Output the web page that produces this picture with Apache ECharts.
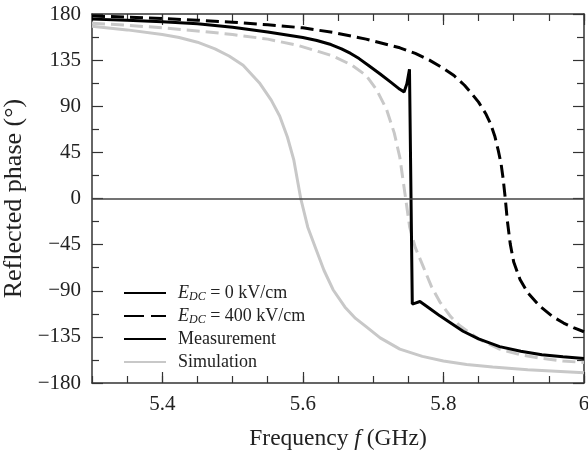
<!DOCTYPE html>
<html>
<head>
<meta charset="utf-8">
<script src="https://cdn.jsdelivr.net/npm/echarts@6/dist/echarts.min.js"></script>
<style>
    html, body {margin: 0; padding: 0; background: #fff;}
    #chartWrap {width: 588px; height: 454px;}
</style>
</head>
<body>
<div id="chartWrap"></div>
<script>
// measurement, E_DC = 0 kV/cm
const meas0Freq = [5.30, 5.35, 5.40, 5.45, 5.50, 5.55, 5.60, 5.62, 5.64, 5.655, 5.668, 5.68, 5.695, 5.71, 5.725, 5.738, 5.744, 5.748, 5.7517,
    5.7557, 5.760, 5.7666, 5.78, 5.795, 5.8093, 5.828, 5.85, 5.88, 5.91, 5.94, 5.97, 6.0];
const meas0Phase = [175, 174, 172.5, 170.5, 167, 162.5, 157, 154.2, 150.2, 146, 141.5, 136.5, 129, 121.5, 113.5, 106.5, 104, 112, 126,
    -103, -102, -100.5, -107, -114.5, -121, -129.5, -137, -144.5, -149, -152.5, -154.5, -156];

// measurement, E_DC = 400 kV/cm
const meas400Freq = [5.30, 5.35, 5.40, 5.45, 5.50, 5.55, 5.60, 5.643, 5.69, 5.738, 5.76, 5.78, 5.80, 5.815, 5.83, 5.84,
    5.85, 5.86, 5.867, 5.873, 5.878, 5.882, 5.885, 5.888, 5.891, 5.895, 5.90, 5.909, 5.92, 5.937, 5.955, 5.971, 5.985, 6.0];
const meas400Phase = [178, 177, 175.5, 174, 172, 169.5, 166.5, 162, 155.5, 147, 141.5, 135, 127, 120, 110.5, 102.5,
    94, 83, 73, 61, 47, 34, 19, 0, -22, -44, -62, -79, -92, -105, -115, -121.5, -126, -130];

// simulation, E_DC = 0 kV/cm
const sim0Freq = [5.30, 5.35, 5.40, 5.424, 5.45, 5.475, 5.495, 5.515, 5.538, 5.555, 5.567, 5.578, 5.587, 5.597, 5.607,
    5.619, 5.63, 5.643, 5.66, 5.675, 5.69, 5.71, 5.738, 5.77, 5.80, 5.833, 5.87, 5.92, 5.96, 6.0];
const sim0Phase = [168, 164.5, 160, 157, 152.5, 146, 139, 130, 113, 96, 80.5, 60, 38, 0, -28,
    -50, -70, -89, -106, -117, -125, -136, -147, -154, -158.5, -162, -164.5, -167, -168.5, -170];

// simulation, E_DC = 400 kV/cm
const sim400Freq = [5.30, 5.35, 5.40, 5.45, 5.50, 5.55, 5.595, 5.624, 5.643, 5.67, 5.69, 5.705, 5.719, 5.73, 5.738, 5.745,
    5.752, 5.76, 5.771, 5.783, 5.795, 5.81, 5.823, 5.85, 5.88, 5.91, 5.94, 5.97, 6.0];
const sim400Phase = [171, 169, 166.5, 163.5, 160, 155.5, 149, 143, 139, 130, 120, 106, 87, 64, 40, 6,
    -28, -48, -66, -86, -101, -115, -124, -137, -147, -152.5, -156, -158.5, -160];

const xTickLabels = ['5.3', '5.4', '5.5', '5.6', '5.7', '5.8', '5.9', '6'];
const legendNames = ['E_DC = 0 kV/cm', 'E_DC = 400 kV/cm', 'Measurement', 'Simulation'];

const FONT = 'Liberation Serif';
const FRAME = '#333';
const GRAY = '#c8c8c8';

function pairs(xs, ys) {
    return xs.map(function (x, i) {
        return [x, ys[i]];
    });
}

function majorOnly(index) {
    return index % 2 === 1;
}

function frameX(pos) {
    return {
        type: 'value', position: pos, min: 5.3, max: 6.0, interval: 0.05,
        axisLine: {show: true, onZero: false, lineStyle: {color: FRAME, width: 1.5}},
        axisTick: {show: true, inside: true, length: 7, lineStyle: {color: FRAME, width: 1.2}},
        axisLabel: {show: false},
        splitLine: {show: false}
    };
}

function majorX(pos, withLabel) {
    return {
        type: 'category', position: pos, data: xTickLabels, boundaryGap: false,
        axisLine: {show: false, onZero: false},
        axisTick: {show: true, inside: true, length: 11, interval: majorOnly, lineStyle: {color: FRAME, width: 1.2}},
        axisLabel: {
            show: withLabel, interval: majorOnly, margin: 11,
            fontFamily: FONT, fontSize: 21, color: '#222'
        },
        splitLine: {show: false}
    };
}

function frameY(pos, withLabel) {
    return {
        type: 'value', position: pos, min: -180, max: 180, interval: 45,
        axisLine: {show: true, onZero: false, lineStyle: {color: FRAME, width: 1.5}},
        axisTick: {show: true, inside: true, length: 11, lineStyle: {color: FRAME, width: 1.2}},
        minorTick: {show: true, splitNumber: 2, length: 7, lineStyle: {color: FRAME, width: 1.2}},
        axisLabel: {
            show: withLabel, margin: 11, fontFamily: FONT, fontSize: 21, color: '#222',
            formatter: function (v) {
                return v < 0 ? '\u2212' + (-v) : '' + v;
            }
        },
        splitLine: {show: false}
    };
}

const xBottom = frameX('bottom');
xBottom.name = '{n|Frequency }{i|f}{n| (GHz)}';
xBottom.nameLocation = 'middle';
xBottom.nameGap = 44;
xBottom.nameTextStyle = {
    rich: {
        n: {fontFamily: FONT, fontSize: 23.5, color: '#222'},
        i: {fontFamily: FONT, fontSize: 23.5, fontStyle: 'italic', color: '#222'}
    }
};

const yLeft = frameY('left', true);
yLeft.name = 'Reflected phase (\u00b0)';
yLeft.nameLocation = 'middle';
yLeft.nameGap = 65;
yLeft.nameTextStyle = {fontFamily: FONT, fontSize: 26, color: '#222'};

function dataSeries(name, xs, ys, color, dashed) {
    return {
        name: name, type: 'line', xAxisIndex: 0, yAxisIndex: 0,
        data: pairs(xs, ys), symbol: 'none', smooth: false,
        lineStyle: {color: color, width: 3, type: dashed ? [13, 6] : 'solid'},
        z: color === GRAY ? 2 : 3
    };
}

function legendSeries(name, color, dash) {
    return {
        name: name, type: 'line', data: [], symbol: 'none',
        itemStyle: {color: color},
        lineStyle: {color: color, width: 3, type: dash || 'solid'}
    };
}

const series = [
    dataSeries('sim0', sim0Freq, sim0Phase, GRAY, false),
    dataSeries('sim400', sim400Freq, sim400Phase, GRAY, true),
    dataSeries('meas400', meas400Freq, meas400Phase, '#000', true),
    dataSeries('meas0', meas0Freq, meas0Phase, '#000', false),
    legendSeries(legendNames[0], '#000'),
    legendSeries(legendNames[1], '#000', [20, 7]),
    legendSeries(legendNames[2], '#000'),
    legendSeries(legendNames[3], GRAY)
];

// zero line
series[0].markLine = {
    silent: true, symbol: 'none', label: {show: false}, animation: false,
    lineStyle: {color: '#444', width: 1.5, type: 'solid'},
    data: [{yAxis: 0}]
};

const myChart = echarts.init(document.getElementById('chartWrap'));
myChart.setOption({
    animation: false,
    backgroundColor: '#fff',
    grid: {left: 92, right: 4, top: 14, bottom: 71, outerBoundsMode: 'none', containLabel: false},
    xAxis: [xBottom, frameX('top'), majorX('bottom', true), majorX('top', false)],
    yAxis: [yLeft, frameY('right', false)],
    legend: {
        orient: 'vertical', left: 123, top: 283, padding: 0,
        itemWidth: 42, itemHeight: 14, itemGap: 3,
        selectedMode: false,
        itemStyle: {opacity: 0, borderWidth: 0},
        data: legendNames,
        formatter: function (name) {
            if (name.indexOf('E_DC') === 0) {
                return '{g|}{e|E}{s|DC}{t|' + name.slice(4) + '}';
            }
            return '{g|}{t|' + name + '}';
        },
        textStyle: {
            fontFamily: FONT, fontSize: 18, color: '#222', lineHeight: 20,
            rich: {
                g: {width: 7},
                e: {fontFamily: FONT, fontSize: 18, fontStyle: 'italic', color: '#222'},
                s: {fontFamily: FONT, fontSize: 12, fontStyle: 'italic', color: '#222', padding: [8, 0, 0, 0]},
                t: {fontFamily: FONT, fontSize: 18, color: '#222'}
            }
        }
    },
    series: series
});
</script>
</body>
</html>
